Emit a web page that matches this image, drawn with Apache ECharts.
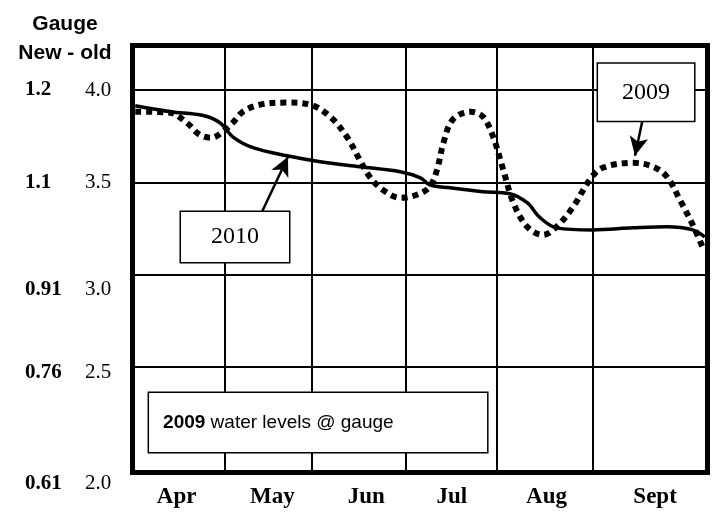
<!DOCTYPE html>
<html>
<head>
<meta charset="utf-8">
<script src="https://cdn.jsdelivr.net/npm/echarts@6/dist/echarts.min.js"></script>
<style>
  html, body { margin: 0; background: #fff; }
  #chart { width: 715px; height: 512px; }
</style>
</head>
<body>
<div id="chart"></div>
<script>
  // x runs in months from the start of April (the months on this chart are not quite equal)
  var monthNames = ['Apr', 'May', 'Jun', 'Jul', 'Aug', 'Sept']
  var monthLabelPos = [0.48, 1.52, 2.54, 3.47, 4.5, 5.68]
  var monthEdges = [1, 1.95, 2.97, 3.96, 5.0]

  // left axis: old gauge (right column) and new - old (left column)
  var levelTicks = [2.0, 2.5, 3.0, 3.5, 4.0]
  var gaugeTicks = ['0.61', '0.76', '0.91', '1.1', '1.2']
  var levelGrid = [2.5, 3.0, 3.5, 4.0]

  var x2010 = [0.03, 0.41, 0.77, 0.95, 1.09, 1.31, 1.68, 2.04, 2.47, 2.91, 3.13, 3.23, 3.45, 3.81, 4.10, 4.29, 4.43, 4.61, 5.0, 5.44, 5.81, 6.09, 6.22]
  var level2010 = [3.915, 3.883, 3.862, 3.823, 3.747, 3.688, 3.644, 3.612, 3.585, 3.558, 3.525, 3.487, 3.471, 3.450, 3.439, 3.390, 3.309, 3.254, 3.243, 3.254, 3.260, 3.243, 3.205]

  var x2009 = [0.03, 0.41, 0.59, 0.73, 0.86, 0.98, 1.09, 1.20, 1.39, 1.68, 1.93, 2.15, 2.33, 2.47, 2.58, 2.72, 2.91, 3.09, 3.23, 3.31, 3.38, 3.48, 3.67, 3.81, 3.92, 4.03, 4.14, 4.29, 4.46, 4.61, 4.79, 4.97, 5.11, 5.44, 5.66, 5.81, 5.95, 6.09, 6.20]
  var level2009 = [3.883, 3.877, 3.823, 3.758, 3.742, 3.774, 3.823, 3.883, 3.921, 3.932, 3.921, 3.855, 3.747, 3.622, 3.530, 3.460, 3.417, 3.433, 3.476, 3.568, 3.715, 3.839, 3.883, 3.855, 3.747, 3.568, 3.390, 3.260, 3.216, 3.260, 3.368, 3.514, 3.579, 3.606, 3.585, 3.530, 3.406, 3.270, 3.146]

  var serif = 'Liberation Serif'
  var sans = 'Liberation Sans'

  function pairs(xs, ys) {
    return xs.map(function (x, i) { return [x, ys[i]] })
  }

  // a white call-out box drawn as the label's own background
  function box(w, h, padX, extra) {
    var s = {
      show: true,
      position: 'inside',
      color: '#000',
      backgroundColor: '#fff',
      borderColor: '#000',
      borderWidth: 1.5,
      width: w - 2 * padX,
      height: h,
      lineHeight: h,
      padding: [0, padX],
      verticalAlign: 'middle'
    }
    return Object.assign(s, extra)
  }

  // labels in the picture sit a little below their grid line near the bottom
  var dropStyle = { '2': 'g22', '2.5': 'g5', '3': 'g13' }

  var chart = echarts.init(document.getElementById('chart'))
  chart.setOption({
    animation: false,
    title: {
      text: 'Gauge\nNew - old',
      left: 60,
      top: 5,
      textAlign: 'center',
      textStyle: { fontFamily: sans, fontWeight: 'bold', fontSize: 21, lineHeight: 29, color: '#000' }
    },
    grid: {
      left: 132.5,
      right: 7.5,
      top: 45.5,
      bottom: 39.5,
      show: true,
      borderColor: '#000',
      borderWidth: 5,
      backgroundColor: '#fff'
    },
    xAxis: {
      type: 'value',
      min: 0,
      max: 6.25,
      axisLine: { show: false },
      axisTick: { show: false },
      splitLine: { show: false },
      axisLabel: {
        customValues: monthLabelPos,
        margin: 13,
        fontFamily: serif,
        fontWeight: 'bold',
        fontSize: 23,
        color: '#000',
        formatter: function (v) {
          var best = 0
          monthLabelPos.forEach(function (p, i) {
            if (Math.abs(p - v) < Math.abs(monthLabelPos[best] - v)) best = i
          })
          return monthNames[best]
        }
      }
    },
    yAxis: {
      type: 'value',
      min: 1.93,
      max: 4.241,
      axisLine: { show: false },
      axisTick: { show: false },
      splitLine: { show: false },
      axisLabel: {
        customValues: levelTicks,
        margin: 19.5,
        align: 'right',
        color: '#000',
        formatter: function (v) {
          var i = levelTicks.indexOf(v)
          var line = '{a|' + gaugeTicks[i] + '}{b|' + v.toFixed(1) + '}'
          var drop = dropStyle[String(v)]
          return drop ? '{' + drop + '| }\n' + line : line
        },
        rich: {
          a: { fontFamily: serif, fontWeight: 'bold', fontSize: 21, width: 60, align: 'left', lineHeight: 24, color: '#000' },
          b: { fontFamily: serif, fontSize: 21, width: 28, align: 'left', lineHeight: 24, color: '#000' },
          g22: { fontSize: 1, lineHeight: 48 },
          g13: { fontSize: 1, lineHeight: 30 },
          g5: { fontSize: 1, lineHeight: 10 }
        }
      }
    },
    series: [
      {
        // grid lines only
        type: 'line',
        data: [],
        z: 1,
        silent: true,
        markLine: {
          silent: true,
          symbol: 'none',
          animation: false,
          label: { show: false },
          lineStyle: { color: '#000', width: 2, type: 'solid' },
          data: monthEdges.map(function (v) { return { xAxis: v } })
            .concat(levelGrid.map(function (v) { return { yAxis: v } }))
        }
      },
      {
        name: '2010',
        type: 'line',
        z: 2,
        smooth: 0.35,
        symbol: 'none',
        lineStyle: { color: '#000', width: 3.5 },
        data: pairs(x2010, level2010)
      },
      {
        name: '2009',
        type: 'line',
        z: 2,
        smooth: 0.35,
        symbol: 'none',
        lineStyle: { color: '#000', width: 6, type: [6, 5], cap: 'butt' },
        data: pairs(x2009, level2009)
      },
      {
        // call-out boxes and arrows
        type: 'line',
        data: [],
        z: 3,
        silent: true,
        markLine: {
          silent: true,
          animation: false,
          symbol: ['none', 'arrow'],
          symbolSize: [14, 19],
          label: { show: false },
          lineStyle: { color: '#000', width: 2.5, type: 'solid' },
          data: [
            [{ coord: [1.408, 3.341] }, { coord: [1.69, 3.639] }],
            [{ coord: [5.549, 3.85] }, { coord: [5.462, 3.644] }]
          ]
        },
        markPoint: {
          silent: true,
          animation: false,
          symbol: 'circle',
          symbolSize: 1,
          itemStyle: { color: 'rgba(0,0,0,0)' },
          data: [
            {
              coord: [1.114, 3.205],
              label: box(108, 50, 0, { align: 'center', fontFamily: serif, fontSize: 24, formatter: '2010' })
            },
            {
              coord: [5.582, 3.988],
              label: box(96, 57, 0, { align: 'center', fontFamily: serif, fontSize: 24, formatter: '2009' })
            },
            {
              // left edge of the box
              coord: [0.18, 2.2],
              label: box(338, 59, 14, {
                align: 'left',
                fontFamily: sans,
                fontSize: 19,
                formatter: '{y|2009} water levels @ gauge',
                rich: { y: { fontFamily: sans, fontWeight: 'bold', fontSize: 19, color: '#000' } }
              })
            }
          ]
        }
      }
    ]
  })
</script>
</body>
</html>
